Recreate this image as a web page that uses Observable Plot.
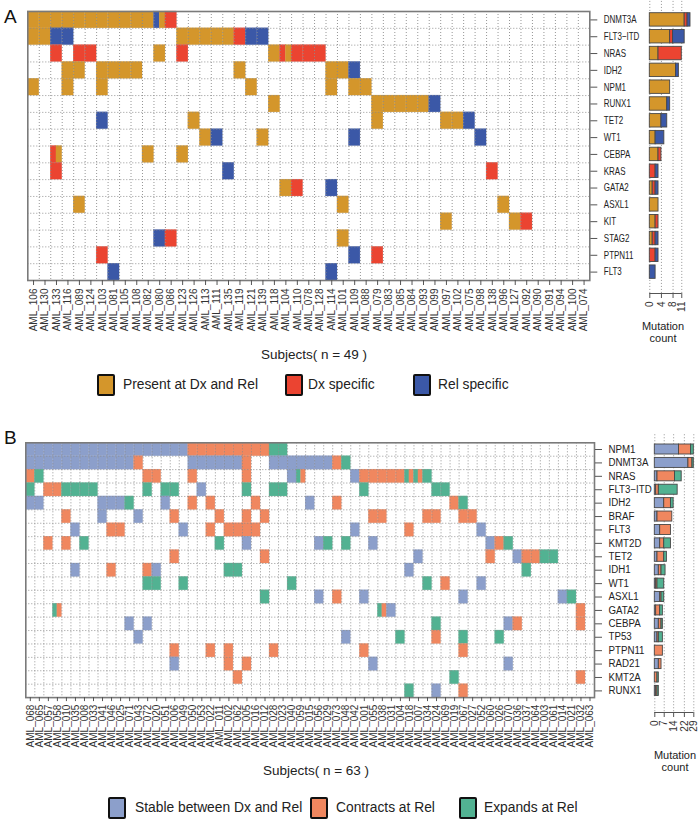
<!DOCTYPE html>
<html><head><meta charset="utf-8">
<script src="https://cdn.jsdelivr.net/npm/d3@7"></script>
<script src="https://cdn.jsdelivr.net/npm/@observablehq/plot@0.6"></script>
<style>
body{margin:0;background:#fff;font-family:'Liberation Sans',Arial,Helvetica,sans-serif;color:#222}
#wrap{position:relative;width:698px;height:822px;overflow:hidden;background:#fff}
.abs{position:absolute;white-space:nowrap}
.box{position:absolute;border:2.5px solid #111;border-radius:2px;box-sizing:border-box}
</style></head><body><div id="wrap"></div>
<script>
// ---------------- Panel A data ----------------
const subjectsA = ["AML_106","AML_130","AML_133","AML_116","AML_089","AML_124","AML_103","AML_081","AML_105","AML_108",
  "AML_082","AML_080","AML_086","AML_123","AML_126","AML_113","AML_111","AML_135","AML_119","AML_121",
  "AML_139","AML_118","AML_104","AML_110","AML_078","AML_128","AML_114","AML_101","AML_109","AML_088",
  "AML_079","AML_083","AML_085","AML_084","AML_093","AML_099","AML_097","AML_102","AML_075","AML_098",
  "AML_138","AML_096","AML_127","AML_092","AML_090","AML_091","AML_094","AML_100","AML_074"];
const genesA = ["DNMT3A","FLT3\u2212ITD","NRAS","IDH2","NPM1","RUNX1","TET2","WT1","CEBPA","KRAS","GATA2","ASXL1","KIT","STAG2","PTPN11","FLT3"];
// column(s):codes  (P = present at Dx and Rel, D = Dx specific, R = Rel specific; several codes = split cell)
const rowsA = [
  "0-10:P 11:RP 12:D",
  "0-1:P 2-3:R 13-17:P 18:D 19-20:R",
  "2:D 4-5:D 11:P 13:D 21:P 22:DP 23-25:D",
  "3-4:P 6-9:P 18:P 26-27:P 28:R",
  "0:P 3:P 6:P 19:P 26:P 28-29:P",
  "21:P 30-34:P 35:R",
  "6:R 14:P 30:P 36-37:P 38:R",
  "15:P 16:R 20:P 28:R 39:R",
  "2:DP 10:P 13:P",
  "2:D 17:R 40:D",
  "22:P 23:D 26:R",
  "4:P 27:P 41:P",
  "36:P 42:P 43:D",
  "11:R 12:D 27:P",
  "6:D 28:R 30:D",
  "7:R 26:R"
];
const codesA = ["P","D","R"];
const categoriesA = ["Present at Dx and Rel","Dx specific","Rel specific"];
const colorsA = ["#D4962B","#EB4431","#3B58A7"];
const countTicksA = [0,4,8,11];

// ---------------- Panel B data ----------------
const subjectsB = ["AML_068","AML_065","AML_057","AML_058","AML_010","AML_035","AML_008","AML_033","AML_041","AML_046",
  "AML_025","AML_071","AML_043","AML_072","AML_020","AML_051","AML_006","AML_049","AML_050","AML_053",
  "AML_022","AML_011","AML_002","AML_062","AML_005","AML_016","AML_012","AML_028","AML_023","AML_040",
  "AML_059","AML_015","AML_056","AML_029","AML_073","AML_048","AML_042","AML_001","AML_055","AML_038",
  "AML_031","AML_004","AML_018","AML_007","AML_034","AML_024","AML_069","AML_019","AML_067","AML_027",
  "AML_052","AML_060","AML_026","AML_070","AML_036","AML_037","AML_064","AML_003","AML_061","AML_014",
  "AML_021","AML_032","AML_063"];
const genesB = ["NPM1","DNMT3A","NRAS","FLT3\u2212ITD","IDH2","BRAF","FLT3","KMT2D","TET2","IDH1","WT1","ASXL1","GATA2","CEBPA","TP53","PTPN11","RAD21","KMT2A","RUNX1"];
// S = stable between Dx and Rel, C = contracts at Rel, E = expands at Rel
const rowsB = [
  "0-17:S 18-26:C 27-28:E",
  "0-11:S 12:C 18-23:S 24:C 27-33:S 34:C 35:E",
  "0:C 1:E 13-14:C 18:C 24:C 29:S 30:EC 36:S 37-41:C 42:EC 43:EC 44:E",
  "0:E 2-3:C 4-7:E 13:E 15-16:E 19:S 24:E 27-28:E 37:E 45-46:E",
  "0-1:S 8-10:S 11:E 15:S 18:C 20:C 25:C 31:S 34:C 47:C 48:E",
  "4:C 8:S 12:S 16:C 21:C 24:C 26:C 38-39:C 44-45:C 48-49:C",
  "5:S 9-10:C 17:S 20:C 22-25:C 36:S 42:C 50:S",
  "2:C 4:C 6:E 21:E 24:S 32:S 33:E 35:E 38:S 51:S 52:C 53:E",
  "16:C 26:C 43:S 51:C 54:S 55-56:C 57-58:E",
  "5:S 9:C 13:C 14:S 22-23:E 42:S 55:E",
  "13-14:E 17:E 29:E 44:E 46:C 50:S",
  "26:E 32:S 34:C 37:S 48:S 59:S 60:E",
  "3:EC 39:EC 40:S 61:C",
  "11:S 13:S 45:E 53:S 54:C 61:C",
  "12:S 35:S 41:E 45:C 48:E 52:E",
  "16:C 20:C 22:C 27:C 37:C 48:C",
  "16:S 22:C 24:C 38:S 53:S",
  "23:C 47:E 61:C",
  "42:E 45:S 48:C"
];
const codesB = ["S","C","E"];
const categoriesB = ["Stable between Dx and Rel","Contracts at Rel","Expands at Rel"];
const colorsB = ["#8C9FCB","#F0875F","#52B292"];
const countTicksB = [0,7,14,22,29];

// ---------------- helpers ----------------
function buildCells(genes, rows) {
  const out = [];
  genes.forEach((g, gi) => {
    rows[gi].split(" ").filter(Boolean).forEach(tok => {
      const [range, codes] = tok.split(":");
      const [a, b = a] = range.split("-").map(Number);
      for (let col = a; col <= b; col++) {
        [...codes].forEach((code, k) => out.push({gene: g, gi, code,
          x1: col + k / codes.length, x2: col + (k + 1) / codes.length, y1: gi, y2: gi + 1}));
      }
    });
  });
  return out;
}
function buildCounts(cells, genes, codes) {
  const out = [];
  genes.forEach((g, gi) => {
    let acc = 0;
    codes.forEach(code => {
      const n = cells.filter(c => c.gi === gi && c.code === code).length;
      if (n > 0) { out.push({gi, code, x1: acc, x2: acc + n, y1: gi, y2: gi + 1}); acc += n; }
    });
  });
  return out;
}
const wrap = document.getElementById("wrap");
function place(node, left, top) {
  const d = document.createElement("div");
  d.className = "abs"; d.style.left = left + "px"; d.style.top = top + "px";
  d.appendChild(node); wrap.appendChild(d); return d;
}
function text(str, left, top, css) {
  const d = document.createElement("div");
  d.className = "abs"; d.style.left = left + "px"; d.style.top = top + "px";
  Object.assign(d.style, css || {}); d.textContent = str; wrap.appendChild(d); return d;
}
const baseStyle = {background: "transparent", overflow: "visible", fontFamily: "'Liberation Sans', Arial, sans-serif", fontSize: "10px", color: "#222"};

function panel(cfg) {
  const {subjects, genes, rows, codes, colors, ticks, top, g, b} = cfg;
  const cells = buildCells(genes, rows);
  const counts = buildCounts(cells, genes, codes);
  const nC = subjects.length, nG = genes.length;
  const dotted = {stroke: "#8a8a8a", strokeDasharray: "1,2", strokeWidth: 0.9};
  const gridPlot = Plot.plot({
    width: g.width, height: g.height,
    marginLeft: g.ml, marginRight: g.mr, marginTop: g.mt, marginBottom: g.mb,
    x: {domain: [0, nC]}, y: {domain: [0, nG], reverse: true},
    color: {domain: codes, range: colors},
    style: baseStyle,
    marks: [
      Plot.rect(cells, {x1: "x1", x2: "x2", y1: "y1", y2: "y2", fill: "code", inset: 0, stroke: "code", strokeWidth: 0.3}),
      Plot.ruleX(d3.range(1, nC), dotted),
      Plot.ruleY(d3.range(1, nG), dotted),
      Plot.frame({stroke: "#7a7a7a", strokeWidth: 1.6}),
      Plot.axisX(d3.range(nC).map(i => i + 0.5), {anchor: "bottom", tickFormat: d => subjects[Math.floor(d)],
        tickRotate: -90, tickSize: g.xTick, tickPadding: 3, label: null, stroke: "#555", fill: "#333", fontSize: g.xFont}),
      Plot.axisY(d3.range(nG).map(i => i + 0.5), {anchor: "right", tickFormat: d => genes[Math.floor(d)],
        tickSize: 7, tickPadding: 7, label: null, stroke: "#555", fill: "#222", fontSize: g.yFont})
    ]
  });
  place(gridPlot, 0, top);
  if (g.squeeze) {
    gridPlot.querySelectorAll("text").forEach(t => {
      if (genes.includes(t.textContent)) {
        const w = t.getComputedTextLength();
        t.setAttribute("textLength", (w * g.squeeze).toFixed(1));
        t.setAttribute("lengthAdjust", "spacingAndGlyphs");
      }
    });
  }
  const barPlot = Plot.plot({
    width: b.width, height: b.height,
    marginLeft: b.ml, marginRight: b.mr, marginTop: g.mt, marginBottom: b.mb,
    x: {domain: [0, b.xmax]}, y: {domain: [0, b.ymax], reverse: true, axis: null},
    color: {domain: codes, range: colors},
    style: baseStyle,
    marks: [
      Plot.ruleX(ticks, {...dotted, y1: -0.6, y2: b.ymax}),
      Plot.rect(counts, {x1: "x1", x2: "x2", y1: "y1", y2: "y2", fill: "code", stroke: "#474747", strokeWidth: 0.9,
        insetTop: b.inset, insetBottom: b.inset}),
      Plot.ruleY([b.ymax], {x1: ticks[0], x2: ticks[ticks.length - 1], stroke: "#555", strokeWidth: 1}),
      Plot.axisX(ticks, {anchor: "bottom", tickRotate: -90, tickSize: 5, tickPadding: 3, label: null,
        stroke: "#555", fill: "#333", fontSize: 10})
    ]
  });
  place(barPlot, b.left, top);
}

// ---------------- Panel A ----------------
panel({subjects: subjectsA, genes: genesA, rows: rowsA, codes: codesA, colors: colorsA, ticks: countTicksA, top: 0,
  g: {width: 645, height: 345, ml: 27.3, mr: 55.7, mt: 11, mb: 65, xTick: 5, xFont: 10, yFont: 10.5, squeeze: 0.76},
  b: {left: 640, width: 58, height: 345, ml: 9.3, mr: 8, mb: 52, xmax: 14, ymax: 16.77, inset: 1.7}});
// ---------------- Panel B ----------------
panel({subjects: subjectsB, genes: genesB, rows: rowsB, codes: codesB, colors: colorsB, ticks: countTicksB, top: 430,
  g: {width: 645, height: 330, ml: 25.3, mr: 51, mt: 12.3, mb: 62.9, xTick: 4, xFont: 10, yFont: 10, squeeze: 0.97},
  b: {left: 645, width: 53, height: 330, ml: 9.3, mr: 0.66, mb: 48, xmax: 32, ymax: 20.11, inset: 1.7}});

// ---------------- titles, captions, legends ----------------
text("A", 4, 6, {fontSize: "19px", color: "#111"});
text("B", 4, 427, {fontSize: "19px", color: "#111"});
function centered(str, cx, top, size) {
  return text(str, cx, top, {fontSize: size + "px", transform: "translateX(-50%)", color: "#222"});
}
centered("Subjects( n = 49 )", 314, 347, 13.5);
centered("Subjects( n = 63 )", 316, 763, 13.5);
function mc(cx, top) {
  const d = text("", cx, top, {fontSize: "11px", lineHeight: "11.5px", textAlign: "center", transform: "translateX(-50%)", color: "#222"});
  d.innerHTML = "Mutation<br>count";
}
mc(663, 321);
mc(675, 750);
function legend(labels, colors, boxXs, textXs, top) {
  labels.forEach((lab, i) => {
    const bx = document.createElement("div");
    bx.className = "box";
    Object.assign(bx.style, {left: boxXs[i] + "px", top: top + "px", width: "18px", height: "22px", background: colors[i]});
    wrap.appendChild(bx);
    text(lab, textXs[i], top + 2, {fontSize: "13.8px", lineHeight: "18px", color: "#222"});
  });
}
legend(categoriesA, colorsA, [97, 285, 413], [123, 308, 438], 374);
legend(categoriesB, colorsB, [108, 310, 459], [135, 336, 484], 797);
</script></body></html>
